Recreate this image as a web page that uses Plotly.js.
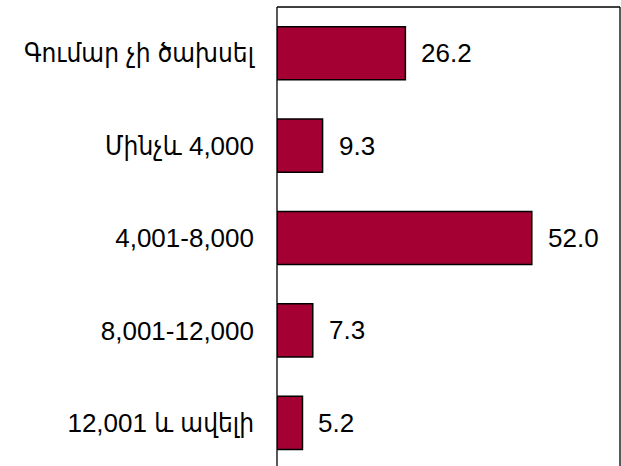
<!DOCTYPE html>
<html>
<head>
<meta charset="utf-8">
<script src="https://cdn.plot.ly/plotly-3.0.1.min.js"></script>
<style>html,body{margin:0;padding:0;background:#fff;}</style>
</head>
<body>
<div id="chart" style="width:621px;height:466px;"></div>
<script>
const categories = ["Գումար չի ծախսել", "Մինչև 4,000", "4,001-8,000", "8,001-12,000", "12,001 և ավելի"];
const values = [26.2, 9.3, 52.0, 7.3, 5.2];
const valueLabels = ["26.2", "9.3", "52.0", "7.3", "5.2"];

const fontFam = "Arial, 'Liberation Sans', 'DejaVu Sans Condensed', 'DejaVu Sans', sans-serif";

const trace = {
  type: "bar",
  orientation: "h",
  y: categories,
  x: values,
  width: 0.575,
  marker: {color: "#A50034", line: {color: "#000000", width: 1.5}},
  hoverinfo: "none"
};

const annotations = categories.map((c, i) => ({
  x: values[i], y: c, xref: "x", yref: "y",
  text: valueLabels[i], showarrow: false,
  xanchor: "left", yanchor: "middle", xshift: 14,
  font: {family: fontFam, size: 26, color: "#000"}
}));

const lineStyle = {color: "#000", width: 1.3};
const layout = {
  width: 621, height: 466,
  margin: {l: 277, r: 1, t: 7, b: 0, pad: 0},
  paper_bgcolor: "#fff", plot_bgcolor: "#fff",
  showlegend: false,
  xaxis: {range: [0, 70], showgrid: false, zeroline: false, showline: false, showticklabels: false, ticks: ""},
  yaxis: {type: "category", categoryorder: "array", categoryarray: categories,
          range: [4.467, -0.5], showgrid: false, zeroline: false, showline: false,
          ticks: "", ticklabelstandoff: 22,
          tickfont: {family: fontFam, size: 26, color: "#000"}},
  annotations: annotations,
  shapes: [
    {type: "line", xref: "paper", yref: "paper", x0: 0, x1: 0, y0: -0.1, y1: 1, line: lineStyle},
    {type: "line", xref: "paper", yref: "paper", x0: 0, x1: 1, y0: 1, y1: 1, line: lineStyle},
    {type: "line", xref: "paper", yref: "paper", x0: 1, x1: 1, y0: -0.1, y1: 1, line: lineStyle}
  ]
};

Plotly.newPlot("chart", [trace], layout, {staticPlot: true, displayModeBar: false});
</script>
</body>
</html>
